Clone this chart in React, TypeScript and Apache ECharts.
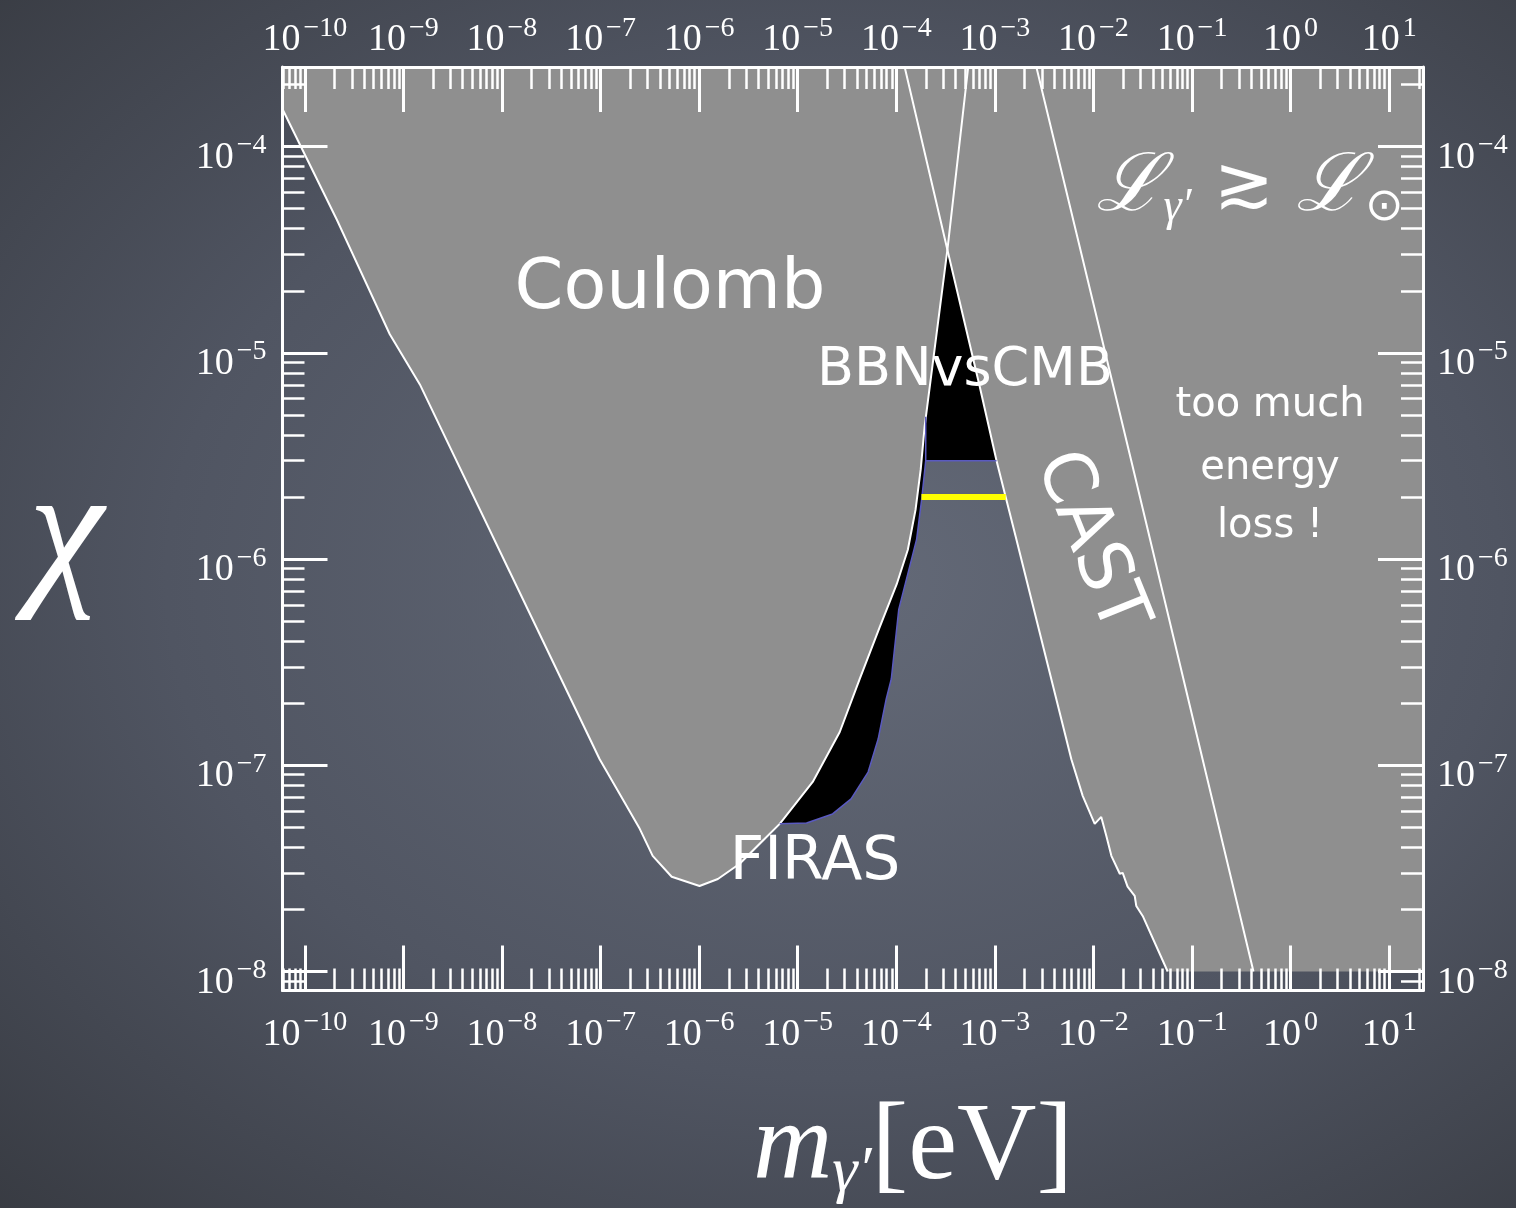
import React, { useEffect, useRef } from "react";
import * as echarts from "echarts";

// ---- axis extents (log10 units) ----
const massLogRange = [-10.226, 1.343];
const chiLogRange = [-8.092, -3.614];

// ---- major tick exponents ----
const massMajorExp = [-10, -9, -8, -7, -6, -5, -4, -3, -2, -1, 0, 1];
const chiMajorExp = [-8, -7, -6, -5, -4];

// ---- Coulomb bound (left edge -> minimum -> apex -> top edge) ----
const coulombMass = [5.9e-11, 2.11e-10, 7.28e-10, 1.47e-9, 9.8e-8, 2.5e-7, 3.38e-7, 5.27e-7, 1.01e-6, 1.55e-6, 2.58e-6, 6.57e-6, 1.42e-5, 2.67e-5, 4.25e-5, 6.79e-5, 1.01e-4, 1.31e-4, 1.57e-4, 1.77e-4, 1.94e-4, 3.3e-4, 5.4e-4];
const coulombChi = [1.53e-4, 4.43e-5, 1.23e-5, 7.03e-6, 1.07e-7, 4.92e-8, 3.64e-8, 2.88e-8, 2.6e-8, 2.81e-8, 3.33e-8, 5.2e-8, 8.3e-8, 1.45e-7, 2.62e-7, 4.68e-7, 7.55e-7, 1.11e-6, 1.74e-6, 2.72e-6, 4.4e-6, 3.16e-5, 2.5e-4];

// ---- BBN vs CMB / CAST boundary (top edge -> bottom) ----
const castMass = [1.2e-4, 3.3e-4, 7.02e-4, 1.04e-3, 1.65e-3, 5.97e-3, 7.78e-3, 1.03e-2, 1.2e-2, 1.35e-2, 1.52e-2, 1.85e-2, 1.98e-2, 2.22e-2, 2.62e-2, 2.72e-2, 3.16e-2, 5.66e-2];
const castChi = [2.5e-4, 3.16e-5, 6.87e-6, 3.0e-6, 1.25e-6, 1.07e-7, 7.11e-8, 5.2e-8, 5.62e-8, 4.55e-8, 3.64e-8, 2.98e-8, 3.01e-8, 2.58e-8, 2.33e-8, 2.08e-8, 1.86e-8, 1.0e-8];
const castFloorChi = 1.0e-8;

// ---- FIRAS boundary (top -> meets Coulomb) ----
const firasMass = [1.99e-4, 1.99e-4, 1.81e-4, 1.61e-4, 1.06e-4, 8.9e-5, 7.9e-5, 6.55e-5, 5.18e-5, 3.48e-5, 2.26e-5, 1.23e-5, 6.57e-6];
const firasChi = [4.9e-6, 3.0e-6, 1.95e-6, 1.25e-6, 5.7e-7, 2.62e-7, 2.09e-7, 1.34e-7, 9.27e-8, 6.87e-8, 5.81e-8, 5.25e-8, 5.2e-8];

// ---- BBN floor ----
const bbnFloorMass = [1.99e-4, 1.04e-3];
const bbnFloorChi = 3.0e-6;

// ---- yellow line ----
const yellowMass = [1.8e-4, 1.29e-3];
const yellowChi = 2.0e-6;

// ---- solar energy-loss line ----
const solarMass = [2.6e-3, 2.42e-2, 0.128, 0.42];
const solarChi = [2.5e-4, 3.0e-6, 1.07e-7, 1.0e-8];

const L10 = Math.log10;
const toPts = (ms: number[], cs: number[]) => ms.map((m, i) => [L10(m), L10(cs[i])]);

function minorTicks(lo: number, hi: number) {
  const out: number[] = [];
  for (let e = Math.floor(lo) - 1; e <= Math.ceil(hi); e++) {
    for (let k = 2; k <= 9; k++) {
      const v = e + Math.log10(k);
      if (v > lo + 0.002 && v < hi - 0.002) out.push(v);
    }
  }
  return out;
}

const SERIF = "'Liberation Serif', 'Times New Roman', serif";
const HAND = "'DejaVu Sans', sans-serif";

const fmt = (v: number) => {
  const e = Math.round(v);
  return `{b|10}{s|${e < 0 ? "\u2212" + -e : e}}`;
};
const labelRich = {
  b: { fontFamily: SERIF, fontSize: 38, color: "#fff", lineHeight: 44, verticalAlign: "bottom" },
  s: { fontFamily: SERIF, fontSize: 28, color: "#fff", lineHeight: 28, verticalAlign: "top", padding: [0, 0, 0, 3] },
};

function polygon(points: number[][], color: string, z: number) {
  return {
    type: "custom",
    coordinateSystem: "cartesian2d",
    xAxisIndex: 0,
    yAxisIndex: 0,
    clip: true,
    silent: true,
    z,
    data: points,
    renderItem: (params: any, api: any) => {
      if (params.dataIndex !== 0) return null;
      return {
        type: "polygon",
        shape: { points: points.map((p) => api.coord(p)) },
        style: { fill: color, stroke: null },
      };
    },
  };
}

function line(points: number[][], color: string, width: number, z: number) {
  return {
    type: "line",
    xAxisIndex: 0,
    yAxisIndex: 0,
    data: points,
    symbol: "none",
    showSymbol: false,
    silent: true,
    clip: true,
    z,
    lineStyle: { color, width },
  };
}

function buildOption() {
  const [xmin, xmax] = massLogRange;
  const [ymin, ymax] = chiLogRange;
  const coulomb = toPts(coulombMass, coulombChi);
  const cast = toPts(castMass, castChi);
  const firas = toPts(firasMass, firasChi);
  const solar = toPts(solarMass, solarChi);
  const bbnFloor = bbnFloorMass.map((m) => [L10(m), L10(bbnFloorChi)]);
  const yellow = yellowMass.map((m) => [L10(m), L10(yellowChi)]);

  const apexC = coulombMass.indexOf(3.3e-4);
  const apexA = castMass.indexOf(3.3e-4);
  const floorA = castChi.indexOf(bbnFloorChi);
  const junction = coulombMass.indexOf(firasMass[firasMass.length - 1]);

  const coulombPoly = [[xmin - 0.1, ymax + 0.1], ...coulomb];
  const castPoly = [...cast, [xmax + 0.1, L10(castFloorChi)], [xmax + 0.1, ymax + 0.1]];
  // black: BBN triangle + FIRAS sliver
  const blackPoly = [
    ...cast.slice(apexA, floorA + 1),
    ...firas.slice(1),
    ...coulomb.slice(junction + 1, apexC + 1),
  ];

  const tickStyle = { color: "#fff", width: 3 };
  const minorStyle = { color: "#fff", width: 2.5 };
  const base = (min: number, max: number) => ({
    type: "value",
    min,
    max,
    z: 10,
    splitLine: { show: false },
    axisLine: { show: false, onZero: false },
    axisTick: { show: false },
    axisLabel: { show: false },
  });
  const major = (min: number, max: number, pos: string, vals: number[], margin: number, extra: any = {}) => ({
    ...base(min, max),
    position: pos,
    axisLine: { show: true, onZero: false, lineStyle: { color: "#fff", width: 3 } },
    axisTick: { show: true, inside: true, length: 45, customValues: vals, lineStyle: tickStyle },
    axisLabel: { show: true, customValues: vals, formatter: fmt, rich: labelRich, margin, ...extra },
  });
  const minor = (min: number, max: number, pos: string) => ({
    ...base(min, max),
    position: pos,
    axisTick: { show: true, inside: true, length: 22, customValues: minorTicks(min, max), lineStyle: minorStyle },
  });

  const txt = (text: string, x: number, y: number, fontSize: number, extra: any = {}) => ({
    type: "text",
    x,
    y,
    z: 20,
    ...extra,
    style: { text, fill: "#fff", fontSize, fontFamily: HAND, align: "center", verticalAlign: "middle" },
  });

  return {
    animation: false,
    backgroundColor: "transparent",
    grid: { left: 282.5, right: 93, top: 67, bottom: 217.5, containLabel: false },
    xAxis: [
      major(xmin, xmax, "bottom", massMajorExp, 16),
      minor(xmin, xmax, "bottom"),
      major(xmin, xmax, "top", massMajorExp, 11),
      minor(xmin, xmax, "top"),
    ],
    yAxis: [
      major(ymin, ymax, "left", chiMajorExp, 16, { padding: [10, 0, 0, 0] }),
      minor(ymin, ymax, "left"),
      major(ymin, ymax, "right", chiMajorExp, 14, { padding: [10, 0, 0, 0] }),
      minor(ymin, ymax, "right"),
    ],
    series: [
      polygon(coulombPoly, "#8f8f8f", 1),
      polygon(castPoly, "#8f8f8f", 1),
      polygon(blackPoly, "#000000", 2),
      line(coulomb, "#ffffff", 2, 3),
      line(cast, "#ffffff", 2, 3),
      line(solar, "#ffffff", 2, 3),
      line(firas, "#5a5ac0", 1.5, 3),
      line(bbnFloor, "#5a5ac0", 1.5, 3),
      line(yellow, "#ffff00", 6, 4),
    ],
    graphic: [
      txt("Coulomb", 670, 284, 70),
      txt("BBNvsCMB", 965, 366, 54),
      txt("FIRAS", 815, 858, 60),
      txt("CAST", 1095, 540, 72, { rotation: (-68 * Math.PI) / 180 }),
      txt("too much", 1270, 402, 40),
      txt("energy", 1270, 465, 40),
      txt("loss !", 1270, 523, 40),
      {
        type: "text", x: 1250, y: 182, z: 20,
        style: {
          text: "{L|\u2112}{s|\u03B3\u2032}{g|\u2273}{L|\u2112}{o|\u2299}",
          fill: "#fff", align: "center", verticalAlign: "middle",
          rich: {
            L: { fontFamily: "'DejaVu Serif', serif", fontStyle: "italic", fontSize: 80, fill: "#fff", lineHeight: 90 },
            s: { fontFamily: SERIF, fontStyle: "italic", fontSize: 46, fill: "#fff", lineHeight: 62, verticalAlign: "bottom" },
            g: { fontFamily: "'DejaVu Sans', sans-serif", fontSize: 72, fill: "#fff", lineHeight: 90, padding: [0, 22, 0, 22] },
            o: { fontFamily: "'DejaVu Sans', sans-serif", fontSize: 46, fill: "#fff", lineHeight: 62, verticalAlign: "bottom", padding: [0, 0, 0, 2] },
          },
        },
      },
      { type: "text", x: 66, y: 527, z: 20, style: { text: "\u03C7", fill: "#fff", fontSize: 170, fontFamily: SERIF, fontStyle: "italic", align: "center", verticalAlign: "middle" } },
      {
        type: "text", x: 913, y: 1143, z: 20,
        style: {
          text: "{m|m}{s|\u03B3\u2032}{r|[eV]}",
          fill: "#fff", align: "center", verticalAlign: "middle",
          rich: {
            m: { fontFamily: SERIF, fontStyle: "italic", fontSize: 110, fill: "#fff", lineHeight: 115, verticalAlign: "top" },
            s: { fontFamily: SERIF, fontStyle: "italic", fontSize: 64, fill: "#fff", lineHeight: 104, verticalAlign: "bottom" },
            r: { fontFamily: SERIF, fontSize: 110, fill: "#fff", lineHeight: 115, verticalAlign: "top" },
          },
        },
      },
    ],
  };
}

export default function App() {
  const ref = useRef<HTMLDivElement>(null);
  useEffect(() => {
    const el = ref.current;
    if (!el) return;
    const chart = echarts.init(el, null, { renderer: "svg" });
    chart.setOption(buildOption() as any);
    return () => chart.dispose();
  }, []);
  return (
    <div
      ref={ref}
      style={{
        position: "fixed",
        left: 0,
        top: 0,
        width: 1516,
        height: 1208,
        background: "radial-gradient(ellipse 80% 75% at 55% 48%, #646a78 0%, #505562 55%, #373a41 100%)",
      }}
    />
  );
}
